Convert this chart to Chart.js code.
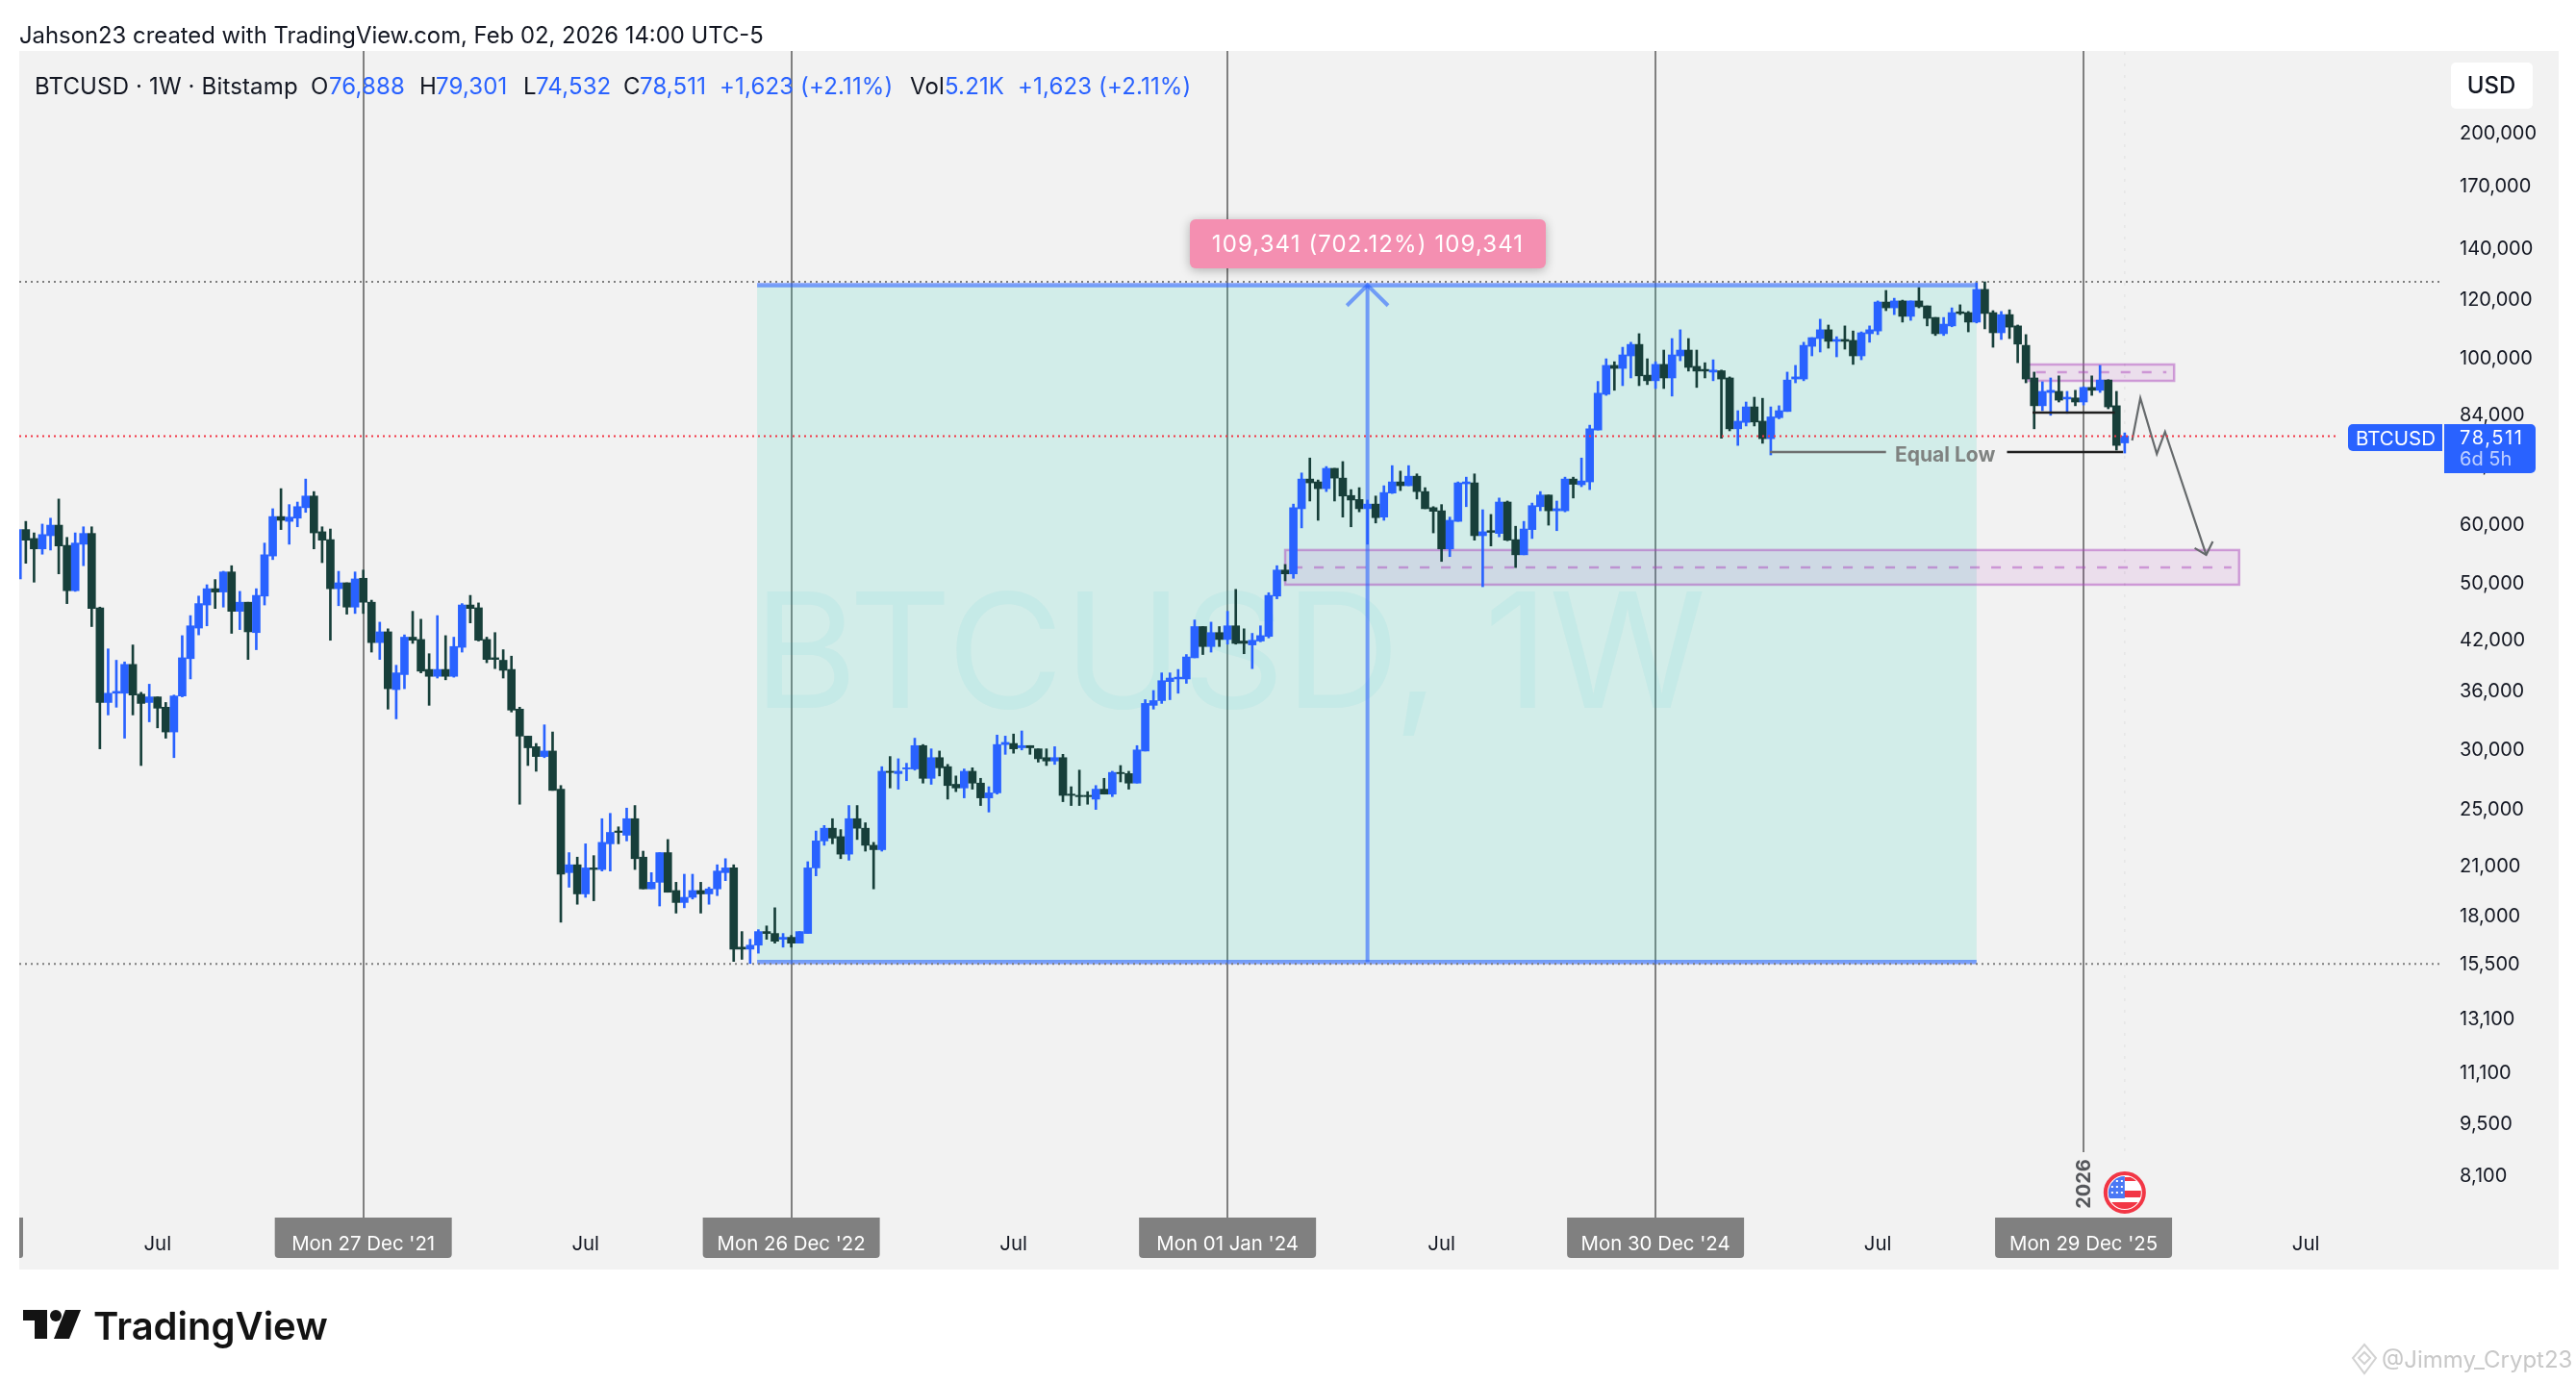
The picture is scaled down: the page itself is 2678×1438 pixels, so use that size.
<!DOCTYPE html>
<html>
<head>
<meta charset="utf-8">
<title>BTCUSD 1W</title>
<script src="https://cdn.jsdelivr.net/npm/chart.js@4"></script>
<style>
  html, body { margin: 0; padding: 0; background: #ffffff; }
  canvas { display: block; }
</style>
</head>
<body>
<canvas id="myChart" width="2678" height="1438"></canvas>
<script>
// weekly candles, first one is the week of 08 Mar 2021, last one 02 Feb 2026
const opens = [50600,58900,57300,55500,57800,59700,56100,48800,56300,58200,46300,34600,35600,35600,38900,35500,34600,35200,34100,31600,
35300,39600,43500,46700,49100,48600,51700,45800,47100,42900,48000,54300,61300,60400,61000,63000,65300,58500,57100,49100,
50000,46400,50700,47100,41600,43000,36000,37700,42300,42000,38300,37500,38300,37500,41000,46700,46300,42000,39700,39400,
38300,33900,31200,30200,29300,29800,26500,20500,21000,19200,20800,20700,22400,23300,23000,24200,21500,19500,19900,21800,
19400,18700,19000,19400,19200,19500,20500,20800,16300,16200,16400,17100,17000,16700,16800,16500,17000,20800,22600,23500,
22900,21700,24200,23500,22300,22000,28000,27800,28200,28200,30300,27400,29200,28400,26900,26600,28000,27000,25800,26200,
30400,30500,30100,30300,30000,29200,28900,29200,26100,26000,26000,25700,26500,26100,27900,27800,27000,29800,34300,34800,
36900,37200,37200,39700,43700,41100,42900,42000,43800,41800,41300,41800,42400,48000,52000,51400,62800,68800,68200,66800,
71100,69000,65400,64600,62800,63700,61200,65900,68200,67400,69400,66200,63000,62400,55500,60400,67800,68000,57800,58700,
58200,64100,57100,54500,58900,63200,65500,62400,62400,68800,67600,68200,80000,89300,97600,96700,100500,104100,94700,93100,
97900,93900,100500,102300,97300,96400,95600,96000,93900,80300,81900,85900,82200,77900,83100,84700,93600,93600,103500,106000,
108900,105100,105700,105400,100500,107600,108500,118600,116500,119000,113500,119000,117200,113100,107600,110200,115100,114800,111500,123300,
114800,107900,114100,110200,103800,93900,86200,89800,90100,88000,88300,87200,91200,90400,93300,86200,76888];
const highs = [58900,60400,58300,59900,61000,64700,57500,58300,59400,59400,46400,40800,39400,39200,41300,35700,36600,35200,34600,35400,
42500,45200,48000,49700,50500,51800,52700,48700,47100,49100,56500,62800,66800,63600,64100,68800,66200,59400,59000,51800,
50000,51700,52000,47400,44300,43400,38800,42600,45800,44700,40200,45200,42500,42300,46900,48100,47000,42300,42900,40700,
39900,34100,31200,30500,32300,31600,26800,21800,21500,22400,21600,24200,24600,23600,25000,25200,21900,20500,21800,22700,
19900,20400,20400,19900,19600,21000,21400,21000,17100,16700,17200,17400,18400,17000,16900,17100,21200,23300,23700,24200,
23400,25200,25200,23900,22500,28400,29300,29100,28700,31000,30400,30000,29800,28600,27600,28200,28300,27400,26700,31300,
31200,31400,31700,30300,30000,30000,30200,29500,26700,28100,26300,26800,27400,28000,28500,28000,30300,34900,35900,37900,
37900,38300,40100,44600,43700,44300,43700,45800,49000,43400,42800,43800,48500,52700,52900,63700,70100,73400,68600,71500,
71100,72600,66600,67000,64500,65300,67400,71700,70500,71700,69900,67000,63200,63600,61200,68200,69200,69900,62600,61700,
64900,64300,59500,60400,63900,66200,65500,64300,69200,69200,73400,81200,92900,99600,98700,103200,104800,107600,99600,98700,
102300,106000,108900,106000,102300,98400,99300,96200,94200,84900,87200,88500,88200,85900,86200,95600,97600,104800,106300,112500,
110500,106600,110200,108500,108200,110200,119000,122900,120000,119300,119000,124000,117200,113100,113100,116500,117600,115200,126200,126200,
115500,115200,115800,110500,107300,95600,92800,93900,94500,90100,90400,91400,94500,97600,93400,90100,79301];
const lows = [50600,53100,50100,54600,55300,51400,46900,48700,52700,43700,30000,33300,34100,31000,33300,28500,32600,32000,31000,29200,
35200,37200,42600,43800,46200,46400,42800,43300,39500,40700,46700,53700,58900,56300,59400,62100,55500,53200,41900,46600,
45400,45500,45500,40400,39500,33900,32900,36100,41500,37900,34300,37300,37100,37400,40400,44200,41800,39100,38400,37300,
33600,25300,28500,28000,29200,26400,17600,19600,18600,19000,18800,20600,20600,22400,22600,20700,19500,19500,18500,19300,
18100,18400,18900,18100,18600,19100,20000,15600,15700,15500,16000,16700,16500,16300,16300,16500,17000,20300,22300,22400,
21400,21300,22700,21900,19500,21900,26600,26500,27200,28100,27000,26900,27600,25700,26300,25800,26500,25200,24700,26100,
29500,29600,29900,29500,28800,28500,28600,25500,25200,25200,25300,24900,26100,25900,27100,26500,27000,29800,33900,34500,
34900,35600,36700,39700,40100,40400,41100,41400,41400,40200,38400,41700,42200,47600,50300,50700,59200,64300,60600,66200,
64300,61200,59400,62200,56300,60100,60600,65800,66400,67400,64700,62800,58300,53400,54200,60400,63200,57000,49400,56000,
57600,56900,52400,54500,57300,62400,59700,58700,62200,64900,67200,66600,80000,89000,90400,91700,93900,91700,92000,90900,
90900,88800,99000,95900,91200,93900,93100,78000,79800,76300,81000,81000,76800,74100,82800,84700,92500,93100,100500,101700,
102900,100200,102600,97900,99300,104800,107300,115500,114100,111500,112100,116500,110200,107000,107000,109900,114100,108200,111200,109200,
103200,105700,106000,98400,92500,80300,84900,83700,87200,84200,86200,86400,89000,89800,85400,75200,74532];
const closes = [58900,57000,55500,58000,59700,56000,48800,56500,58200,46200,34600,35600,35800,38900,35400,34500,35200,34000,31600,35300,
39700,43800,46900,49100,48600,51700,45800,47100,43000,48100,54500,61300,60600,61200,63200,65300,58300,57000,49100,50000,
46400,50600,47100,41600,43000,36100,37900,42300,41900,38100,37500,38300,37500,41100,46700,46200,41900,39500,39500,38200,
33800,31200,30100,29300,29800,26400,20400,21000,19200,20800,20700,22500,23200,23200,24200,21400,19500,19900,21800,19300,
18700,19000,19400,19200,19500,20600,20800,16200,16200,16400,17100,17000,16600,16800,16500,17100,20800,22600,23500,22800,
21700,24200,23500,22300,22000,28000,27900,28000,28300,30300,27400,29200,28300,26800,26600,28000,27000,25800,26200,30400,
30600,30000,30300,30100,29100,28900,29200,26000,26000,25900,25900,26500,26100,27900,27800,27000,29900,34500,34800,37000,
37300,37400,39800,43700,41100,42900,42000,43800,41500,41500,41900,42500,48100,52000,51400,63000,68800,68000,66800,71100,
69000,65300,64500,62800,63700,61100,66000,68200,67400,69400,66200,62800,62300,55500,60600,68000,68200,57800,58500,58400,
64100,57000,54500,59000,63400,65500,62400,62800,68800,67700,68400,80300,89600,97600,96700,100800,104100,94500,93100,97900,
93900,100800,102300,97000,95900,95900,96200,93600,80300,82200,85900,82000,77900,83300,84900,93300,94200,103800,106300,108900,
105100,105700,105100,100500,107900,108900,118600,116500,119000,113500,119000,116900,112800,107600,110800,114800,114500,111500,123300,114500,
107900,114100,109800,104200,93600,86200,90100,90400,87700,88500,87200,91200,90400,93300,85900,76300,78511];

// price axis
const priceTicks = [200000,170000,140000,120000,100000,84000,72000,60000,50000,42000,36000,30000,25000,21000,18000,15500,13100,11100,9500,8100];
const priceMin = 7094;
const priceMax = 256750;

// time axis, values are week numbers counted from the first candle
const tickWeeks = [17,42,69,94,121,147,173,199,226,251,278];
const tickLabels = ['Jul',"Mon 27 Dec '21",'Jul',"Mon 26 Dec '22",'Jul',"Mon 01 Jan '24",'Jul',"Mon 30 Dec '24",'Jul',"Mon 29 Dec '25",'Jul'];
const yearWeeks = [42,94,147,199,251];
const weekMin = 0.2;
const weekMax = 294.7;

// drawings on the chart
const lastPrice = 78511;
const highLevel = 126200;
const lowLevel = 15476;
const measureWeeks = [89.85, 238];
const measurePrices = [15572, 124913];
const arrowWeek = 164;
const arrowHeadWeeks = [161.5, 164, 166.5];
const arrowHeadPrices = [117300, 124913, 117300];
const zoneWeeks = [[154, 269.9], [244.3, 262]];
const zoneTops = [55300, 97870];
const zoneBottoms = [49710, 93070];
const zoneMids = [52430, 95610];
const equalLowWeeks = [212.9, 227];
const equalLowWeeks2 = [241.7, 255.8];
const equalLowPrice = 74770;
const equalHighWeeks = [244.8, 254.8];
const equalHighPrice = 84400;
const pathWeeks = [256.9, 257.9, 259.9, 260.9, 265.9];
const pathPrices = [77460, 88250, 74330, 79570, 54500];
const pathHeadWeeks = [264.5, 265.9, 266.7];
const pathHeadPrices = [55630, 54500, 56780];

const blue = '#2962ff';
const dark = '#173f3a';
const font = 'Inter, "Liberation Sans", sans-serif';

function lineSet(xs, ys, color, width, dash) {
  return {
    type: 'line',
    data: xs.map((x, i) => ({ x: x, y: ys[i] })),
    borderColor: color,
    borderWidth: width,
    borderDash: dash || [],
    pointRadius: 0,
    tension: 0,
    fill: false,
    order: 1
  };
}

function box(ctx, x, y, w, h, r, color) {
  ctx.fillStyle = color;
  ctx.beginPath();
  ctx.roundRect(x, y, w, h, r);
  ctx.fill();
}

function text(ctx, str, x, y, size, color, weight, align, spacing) {
  ctx.font = (weight || 400) + ' ' + size + 'px ' + font;
  ctx.fillStyle = color;
  ctx.textAlign = align || 'left';
  ctx.textBaseline = 'middle';
  ctx.letterSpacing = (spacing || 0) + 'px';
  ctx.fillText(str, x, y);
  ctx.letterSpacing = '0px';
}

const tvDrawings = {
  id: 'tvDrawings',
  beforeDraw(chart) {
    const ctx = chart.ctx, xs = chart.scales.x;
    ctx.save();
    ctx.fillStyle = '#ffffff';
    ctx.fillRect(0, 0, 2678, 1438);
    ctx.fillStyle = '#f2f2f2';
    ctx.fillRect(20, 53, 2640, 1267);
    // clipped date box on the left edge and the grey date boxes
    box(ctx, 20, 1266, 4, 42, [0, 0, 3, 0], '#808080');
    yearWeeks.forEach(w => {
      const x = xs.getPixelForValue(w);
      box(ctx, x - 92, 1266, 184, 42, [0, 0, 4, 4], '#808080');
    });
    ctx.restore();
  },
  beforeDatasetsDraw(chart) {
    const ctx = chart.ctx, xs = chart.scales.x, ys = chart.scales.y;
    ctx.save();
    // measure area
    const left = xs.getPixelForValue(measureWeeks[0]), right = xs.getPixelForValue(measureWeeks[1]);
    const top = ys.getPixelForValue(measurePrices[1]), bottom = ys.getPixelForValue(measurePrices[0]);
    ctx.fillStyle = 'rgba(30,210,180,0.15)';
    ctx.fillRect(left, top, right - left, bottom - top);
    // watermark
    text(ctx, 'BTCUSD, 1W', 783, 686, 166, 'rgba(0,188,212,0.06)', 400);
    // purple zones
    zoneWeeks.forEach((z, i) => {
      const x0 = xs.getPixelForValue(z[0]), x1 = xs.getPixelForValue(z[1]);
      const y0 = ys.getPixelForValue(zoneTops[i]), y1 = ys.getPixelForValue(zoneBottoms[i]), ym = ys.getPixelForValue(zoneMids[i]);
      ctx.fillStyle = 'rgba(162,22,172,0.09)';
      ctx.fillRect(x0, y0, x1 - x0, y1 - y0);
      ctx.strokeStyle = 'rgba(171,71,188,0.48)';
      ctx.lineWidth = 2.5;
      ctx.strokeRect(x0, y0, x1 - x0, y1 - y0);
      ctx.setLineDash([10, 12]);
      ctx.beginPath();
      ctx.moveTo(x0 + 8, ym);
      ctx.lineTo(x1 - 8, ym);
      ctx.stroke();
      ctx.setLineDash([]);
    });
    // faint session line at the live candle
    const lx = xs.getPixelForValue(opens.length - 1);
    ctx.strokeStyle = 'rgba(0,0,0,0.05)';
    ctx.lineWidth = 1.5;
    ctx.setLineDash([3, 9]);
    ctx.beginPath();
    ctx.moveTo(lx, 54);
    ctx.lineTo(lx, 1205);
    ctx.stroke();
    ctx.setLineDash([]);
    ctx.restore();
  },
  afterDatasetsDraw(chart) {
    const ctx = chart.ctx, xs = chart.scales.x;
    ctx.save();

    // header and legend
    text(ctx, 'Jahson23 created with TradingView.com, Feb 02, 2026 14:00 UTC-5', 20, 37.5, 23.85, '#131722');
    const legend = [
      ['BTCUSD · 1W · Bitstamp', 36, '#131722'],
      ['O', 323, '#131722'], ['76,888', 342, blue],
      ['H', 436, '#131722'], ['79,301', 453, blue],
      ['L', 544, '#131722'], ['74,532', 557, blue],
      ['C', 648, '#131722'], ['78,511', 665, blue],
      ['+1,623 (+2.11%)', 748, blue],
      ['Vol', 946, '#131722'], ['5.21K', 982, blue],
      ['+1,623 (+2.11%)', 1058, blue]
    ];
    legend.forEach(l => text(ctx, l[0], l[1], 91, 24, l[2], 400, 'left', 0.15));

    // USD box
    box(ctx, 2548, 65, 85, 48, 5, '#ffffff');
    text(ctx, 'USD', 2590, 90, 24, '#131722', 500, 'center');

    // pink measure label
    ctx.save();
    ctx.shadowColor = 'rgba(0,0,0,0.28)';
    ctx.shadowBlur = 11;
    ctx.shadowOffsetY = 2;
    box(ctx, 1237, 228, 370, 51, 6, '#f48fb1');
    ctx.restore();
    text(ctx, '109,341 (702.12%) 109,341', 1422, 255, 24, '#ffffff', 400, 'center', 1.1);

    // equal low caption
    text(ctx, 'Equal Low', 1970, 474, 21, '#7f8280', 700);

    // symbol and price labels
    box(ctx, 2441, 441, 98, 28, [5, 0, 0, 5], blue);
    text(ctx, 'BTCUSD', 2449, 456.5, 20.5, '#ffffff');
    box(ctx, 2541, 441, 95, 51, [0, 5, 5, 0], blue);
    text(ctx, '78,511', 2557, 455.5, 20, '#ffffff', 400, 'left', 1.6);
    text(ctx, '6d 5h', 2557, 478, 20, 'rgba(255,255,255,0.7)');

    // year mark on the last date line, with a patch that breaks the line
    const yx = xs.getPixelForValue(yearWeeks[yearWeeks.length - 1]);
    ctx.fillStyle = '#f2f2f2';
    ctx.fillRect(yx - 14, 1198, 28, 68);
    ctx.save();
    ctx.translate(yx + 1, 1231);
    ctx.rotate(-Math.PI / 2);
    text(ctx, '2026', 0, 0, 20, '#54565a', 700, 'center');
    ctx.restore();

    // economic event flag
    const fx = xs.getPixelForValue(opens.length - 1), fy = 1240, fr = 20;
    ctx.beginPath();
    ctx.arc(fx, fy, fr, 0, Math.PI * 2);
    ctx.fillStyle = '#ffffff';
    ctx.fill();
    ctx.save();
    ctx.beginPath();
    ctx.arc(fx, fy, fr - 3, 0, Math.PI * 2);
    ctx.clip();
    ctx.fillStyle = '#f23645';
    ctx.fillRect(fx - fr, fy - 2, fr * 2, 7);
    ctx.fillRect(fx - fr, fy + 10, fr * 2, 10);
    ctx.fillRect(fx, fy - 16, fr, 4);
    ctx.fillStyle = '#4a78f5';
    ctx.fillRect(fx - fr, fy - fr, fr, 26);
    ctx.fillStyle = '#ffffff';
    for (let r = 0; r < 3; r++) {
      for (let c = 0; c < 3; c++) {
        ctx.fillRect(fx - 14 + c * 5, fy - 13 + r * 6, 2, 2);
      }
    }
    ctx.restore();
    ctx.beginPath();
    ctx.arc(fx, fy, fr, 0, Math.PI * 2);
    ctx.strokeStyle = '#f23645';
    ctx.lineWidth = 4;
    ctx.stroke();

    // TradingView logo
    ctx.fillStyle = '#131313';
    ctx.fillRect(24, 1362, 25, 11);
    ctx.fillRect(36, 1362, 13, 30);
    ctx.beginPath();
    ctx.arc(58, 1368, 6, 0, Math.PI * 2);
    ctx.fill();
    ctx.beginPath();
    ctx.moveTo(68, 1362);
    ctx.lineTo(84, 1362);
    ctx.lineTo(72, 1392);
    ctx.lineTo(56, 1392);
    ctx.closePath();
    ctx.fill();
    text(ctx, 'TradingView', 97, 1381, 40, '#131313', 600);

    // source watermark
    ctx.strokeStyle = '#d2d2d2';
    ctx.lineWidth = 2;
    ctx.beginPath();
    ctx.moveTo(2458, 1398);
    ctx.lineTo(2470, 1412);
    ctx.lineTo(2458, 1428);
    ctx.lineTo(2446, 1412);
    ctx.closePath();
    ctx.moveTo(2458, 1406);
    ctx.lineTo(2464, 1412);
    ctx.lineTo(2458, 1418);
    ctx.lineTo(2452, 1412);
    ctx.closePath();
    ctx.stroke();
    text(ctx, '@Jimmy_Crypt23', 2476, 1415, 24, '#c8c8c8');

    ctx.restore();
  }
};

const weeks = opens.map((o, i) => i);
const candleColors = weeks.map(i => closes[i] >= opens[i] ? blue : dark);

new Chart(document.getElementById('myChart'), {
  data: {
    datasets: [
      {
        type: 'bar',
        data: weeks.map(i => ({ x: i, y: [lows[i], highs[i]] })),
        backgroundColor: candleColors,
        barThickness: 2,
        grouped: false,
        borderWidth: 0,
        order: 3
      },
      {
        type: 'bar',
        data: weeks.map(i => ({ x: i, y: [opens[i], closes[i]] })),
        backgroundColor: candleColors,
        barThickness: 8,
        grouped: false,
        borderWidth: 0,
        order: 2
      },
      lineSet([weekMin, weekMax], [highLevel, highLevel], '#7d7d7d', 2, [2, 4]),
      lineSet([weekMin, weekMax], [lowLevel, lowLevel], '#7d7d7d', 2, [2, 4]),
      lineSet([weekMin, 282], [lastPrice, lastPrice], '#f23645', 2, [2, 4]),
      lineSet(measureWeeks, [measurePrices[1], measurePrices[1]], 'rgba(41,98,255,0.58)', 4.5),
      lineSet(measureWeeks, [measurePrices[0], measurePrices[0]], 'rgba(41,98,255,0.58)', 4.5),
      lineSet([arrowWeek, arrowWeek], measurePrices, 'rgba(41,98,255,0.58)', 4),
      lineSet(arrowHeadWeeks, arrowHeadPrices, 'rgba(41,98,255,0.58)', 4),
      lineSet(equalLowWeeks, [equalLowPrice, equalLowPrice], '#6e7070', 2.5),
      lineSet(equalLowWeeks2, [equalLowPrice, equalLowPrice], '#202020', 2.5),
      lineSet(equalHighWeeks, [equalHighPrice, equalHighPrice], '#202020', 2.5),
      lineSet(pathWeeks, pathPrices, '#666a6c', 2.2),
      lineSet(pathHeadWeeks, pathHeadPrices, '#666a6c', 2.2)
    ]
  },
  options: {
    responsive: false,
    animation: false,
    devicePixelRatio: 1,
    layout: { padding: { left: 20, top: 53, right: 0, bottom: 0 } },
    plugins: { legend: { display: false }, tooltip: { enabled: false }, title: { display: false } },
    scales: {
      x: {
        type: 'linear',
        min: weekMin,
        max: weekMax,
        offset: false,
        afterFit(scale) { scale.height = 172; },
        afterBuildTicks(scale) { scale.ticks = tickWeeks.map(v => ({ value: v })); },
        grid: {
          offset: false,
          drawTicks: false,
          lineWidth: 2,
          color: c => yearWeeks.includes(c.tick.value) ? '#808080' : 'rgba(0,0,0,0)'
        },
        border: { display: false },
        ticks: {
          autoSkip: false,
          maxRotation: 0,
          padding: 16,
          font: { family: font, size: 20.4 },
          color: c => yearWeeks.includes(c.tick.value) ? '#ffffff' : '#131722',
          callback: v => tickLabels[tickWeeks.indexOf(v)]
        }
      },
      y: {
        type: 'logarithmic',
        position: 'right',
        min: priceMin,
        max: priceMax,
        afterFit(scale) { scale.width = 138; },
        afterBuildTicks(scale) { scale.ticks = priceTicks.map(v => ({ value: v })); },
        grid: { display: false, drawTicks: false },
        border: { display: false },
        ticks: {
          autoSkip: false,
          padding: 17,
          labelOffset: 1.5,
          font: { family: font, size: 20 },
          color: '#131722',
          callback: v => v.toLocaleString('en-US')
        }
      }
    }
  },
  plugins: [tvDrawings]
});
</script>
</body>
</html>
